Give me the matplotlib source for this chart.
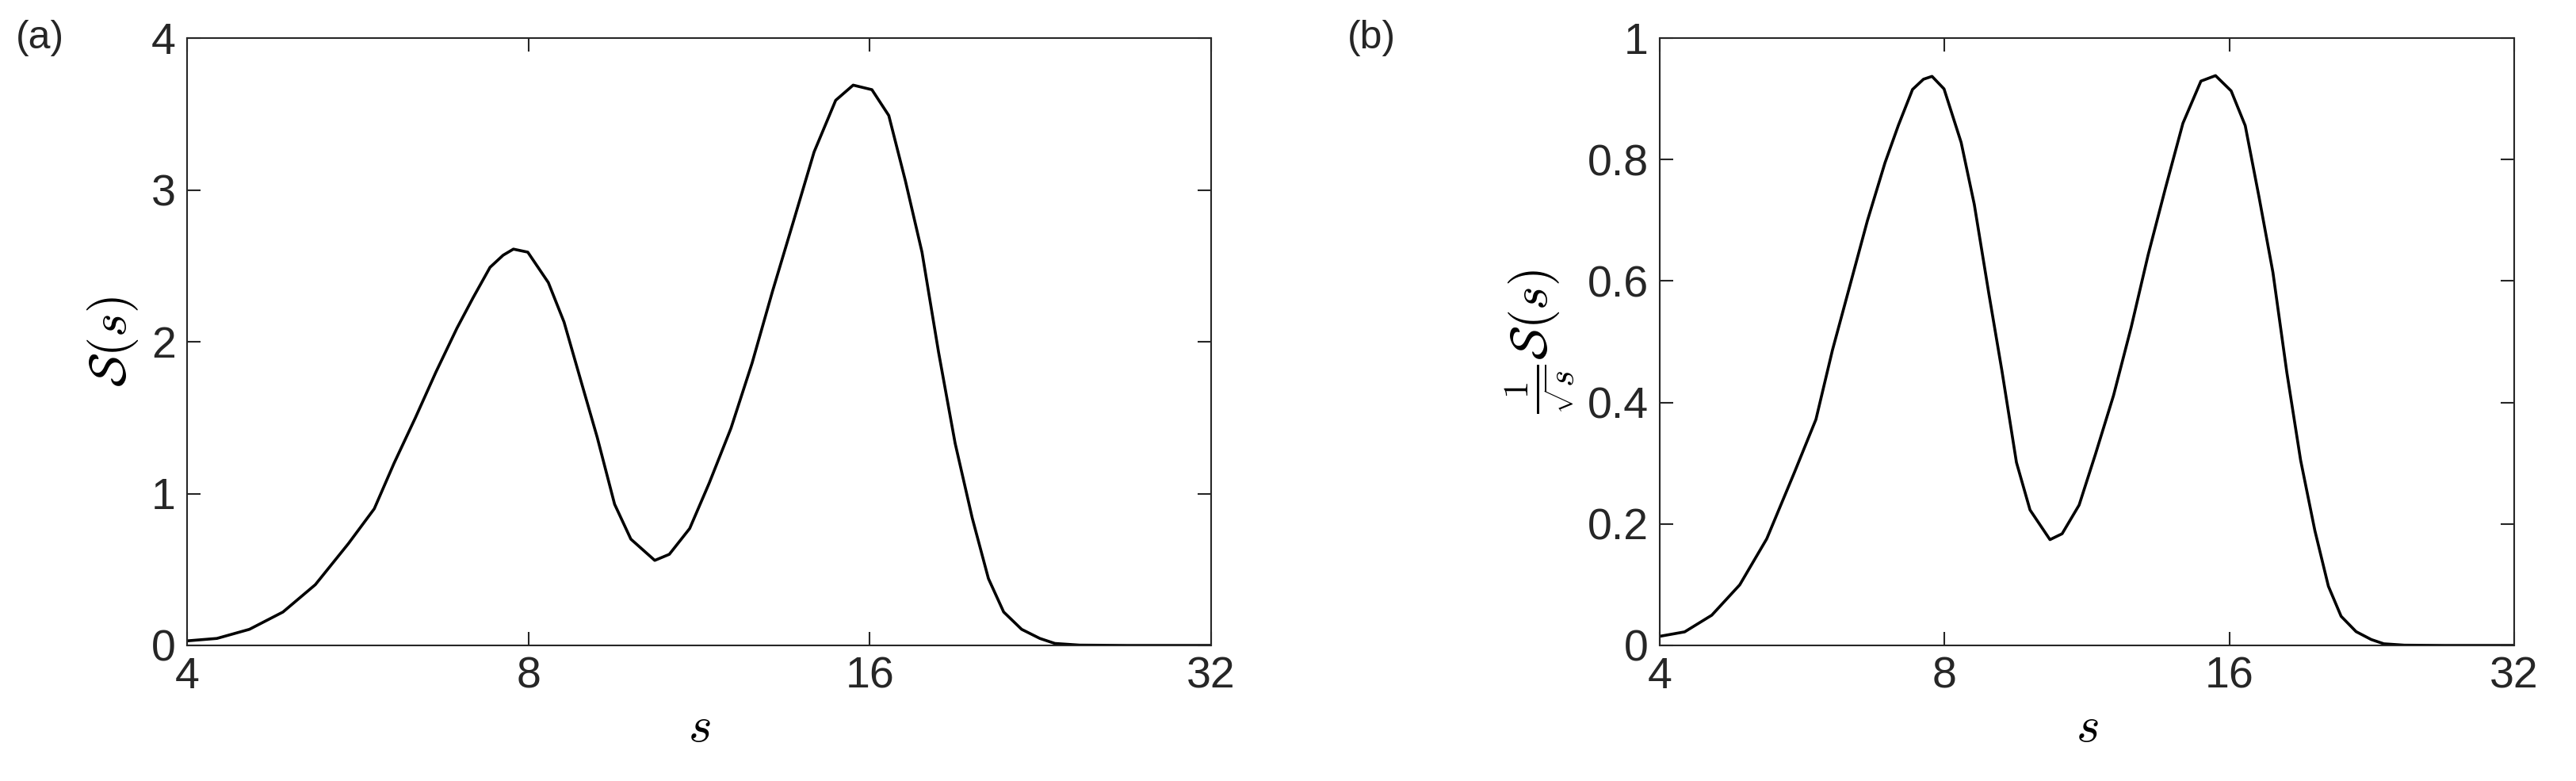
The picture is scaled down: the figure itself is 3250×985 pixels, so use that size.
import numpy as np
import matplotlib
matplotlib.use("Agg")
import matplotlib.pyplot as plt

plt.rcParams['font.family'] = ['Liberation Sans', 'DejaVu Sans']
plt.rcParams['mathtext.fontset'] = 'cm'

s_vals = [4.0, 4.25, 4.54, 4.86, 5.19, 5.55, 5.85, 6.09, 6.36, 6.63, 6.92, 7.15, 7.40,
          7.6, 7.76, 7.99, 8.33, 8.6, 8.91, 9.2, 9.53, 9.85, 10.34, 10.65,
          11.1, 11.55, 12.07, 12.6, 13.13, 13.7, 14.29, 14.93, 15.47, 16.07, 16.63,
          17.2, 17.79, 18.4, 19.03, 19.7, 20.36, 21.0, 21.78, 22.6,
          23.3, 24.5, 27.0, 32.0]
S_vals = [0.03, 0.046, 0.106, 0.22, 0.40, 0.67, 0.90, 1.20, 1.50, 1.80, 2.09, 2.29, 2.49,
          2.57, 2.61, 2.59, 2.39, 2.13, 1.73, 1.37, 0.93, 0.70, 0.56, 0.60,
          0.77, 1.07, 1.43, 1.86, 2.33, 2.79, 3.25, 3.59, 3.69, 3.66, 3.49,
          3.06, 2.59, 1.93, 1.33, 0.84, 0.44, 0.22, 0.106, 0.046,
          0.013, 0.002, 0.0, 0.0]
xticks = [4, 8, 16, 32]
xticklabels = ['4', '8', '16', '32']

s = np.array(s_vals)
S = np.array(S_vals)
Sb = S / np.sqrt(s)

fig = plt.figure(figsize=(32.5, 9.85), dpi=100)
axa = fig.add_axes([236/3250, 1-814/985, (1528-236)/3250, (814-48)/985])
axb = fig.add_axes([2094/3250, 1-814/985, (3172-2094)/3250, (814-48)/985])

for ax, y, ylim, yt, ytl, lab, pl in [
        (axa, S, 4, [0, 1, 2, 3, 4], ['0', '1', '2', '3', '4'], r'$\mathcal{S}(s)$', '(a)'),
        (axb, Sb, 1, [0, 0.2, 0.4, 0.6, 0.8, 1], ['0', '0.2', '0.4', '0.6', '0.8', '1'],
         r'$\frac{1}{\sqrt{s}}\mathcal{S}(s)$', '(b)')]:
    ax.plot(s, y, color='black', lw=2.6)
    ax.set_xscale('log', base=2)
    ax.set_xlim(4, 32)
    ax.set_ylim(0, ylim)
    ax.set_xticks(xticks)
    ax.set_xticklabels(xticklabels)
    ax.minorticks_off()
    ax.set_yticks(yt)
    ax.set_yticklabels(ytl)
    ax.tick_params(direction='in', length=12, width=1.5, labelsize=40, top=True, right=True,
                   colors='#262626', labelcolor='#262626', pad=10)
    for sp in ax.spines.values():
        sp.set_linewidth(1.5)
        sp.set_color('#262626')
    ax.set_xlabel(r'$s$', fontsize=46, labelpad=6)
    ax.set_ylabel(lab, fontsize=46, labelpad=10)
fig.text(20/3250, 1-48/985, '(a)', fontsize=36, color='#262626', va='center')
fig.text(1700/3250, 1-48/985, '(b)', fontsize=36, color='#262626', va='center')

fig.savefig('out.png', dpi=100)
